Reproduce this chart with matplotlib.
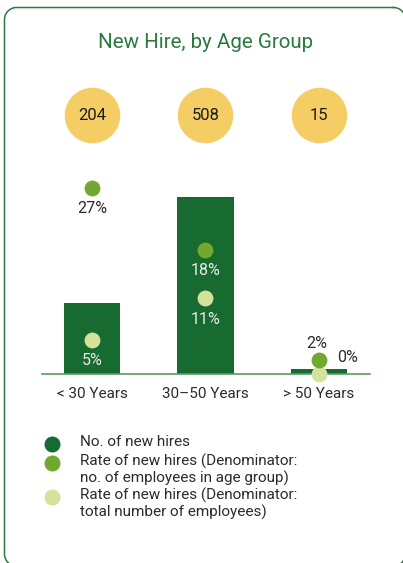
import matplotlib
matplotlib.use("Agg")
import matplotlib.pyplot as plt
import numpy as np
from matplotlib.transforms import blended_transform_factory

plt.rcParams['font.family'] = ['Roboto', 'DejaVu Sans']

# data
categories = ["< 30 Years", "30\u201350 Years", "> 50 Years"]
new_hires = [204, 508, 15]
rate_age_group = [27, 18, 2]      # % of employees in age group
rate_total = [5, 11, 0]           # % of total employees
legend_labels = ["No. of new hires",
                 "Rate of new hires (Denominator:\nno. of employees in age group)",
                 "Rate of new hires (Denominator:\ntotal number of employees)"]

dark = "#176b30"
mid = "#72a82e"
light = "#d4e29c"
yellow = "#f5cd65"
title_green = "#2a7a3e"
txt = "#2b2b2b"

W, H = 403, 563
fig = plt.figure(figsize=(W / 100, H / 100), dpi=100)

def fx(px):
    return px / W

def fy(py):
    return 1 - py / H

# card border, drawn in pixel units (right and bottom edges fall just off the canvas)
bg = fig.add_axes([0, 0, 1, 1])
bg.set_xlim(0, W)
bg.set_ylim(H, 0)
bg.axis("off")
x0, y0, x1, y1, r = 4.5, 7.5, 405.5, 566.0, 12
pts = []
for cx, cy, a0 in [(x1 - r, y0 + r, -np.pi / 2), (x1 - r, y1 - r, 0),
                   (x0 + r, y1 - r, np.pi / 2), (x0 + r, y0 + r, np.pi)]:
    a = np.linspace(a0, a0 + np.pi / 2, 20)
    pts.append(np.column_stack([cx + r * np.cos(a), cy + r * np.sin(a)]))
pts = np.vstack(pts + [pts[0][:1]])
bg.plot(pts[:, 0], pts[:, 1], color="#2a7a3e", lw=1.1)

fig.text(fx(206), fy(42), "New Hire, by Age Group", ha="center", va="center",
         fontsize=14.8, color=title_green)

# rate axis (percent) and bar axis share the same box
ax = fig.add_axes([fx(42), fy(374), fx(370) - fx(42), fy(160) - fy(374)])
ax.set_xlim(-0.44, 2.45)
ax.set_ylim(0, 214 / 6.9)
axb = ax.twinx()
axb.set_ylim(0, 613)
ax.set_zorder(axb.get_zorder() + 1)
ax.patch.set_visible(False)

x = list(range(len(categories)))
axb.bar(x, new_hires, width=0.5, color=dark)

for a in (ax, axb):
    for s in a.spines.values():
        s.set_visible(False)
    a.set_yticks([])
ax.spines["bottom"].set_visible(True)
ax.spines["bottom"].set_color("#5b9b63")
ax.spines["bottom"].set_linewidth(1.2)
ax.set_xticks(x)
ax.set_xticklabels(categories, fontsize=11, color=txt)
ax.tick_params(axis="x", length=0, pad=9)

ax.scatter(x, rate_age_group, s=130, color=mid, zorder=4, clip_on=False, linewidths=0)
ax.scatter(x, rate_total, s=130, color=light, zorder=3, clip_on=False, linewidths=0)

# value labels
label_offsets_mid = [(0, -21), (0, -21), (-2, 17)]
label_offsets_light = [(0, -21), (0, -21), (29, 17)]
for i in x:
    for vals, offs in ((rate_age_group, label_offsets_mid), (rate_total, label_offsets_light)):
        v = vals[i]
        dx, dy = offs[i]
        on_bar = (v / ax.get_ylim()[1]) < (new_hires[i] / axb.get_ylim()[1]) and dy < 0
        ax.annotate(f"{v}%", (i, v), xytext=(dx * 0.72, dy * 0.72),
                    textcoords="offset points", ha="center", va="center",
                    fontsize=11.5, color="#e8ede8" if on_bar else txt, zorder=5)

# number bubbles above the bars
tr = blended_transform_factory(ax.transData, fig.transFigure)
ax.scatter(x, [fy(115)] * len(x), s=1600, color=yellow, transform=tr,
           clip_on=False, linewidths=0, zorder=2)
for i, n in zip(x, new_hires):
    ax.text(i, fy(115), str(n), transform=tr, ha="center", va="center",
            fontsize=12, color="#1e1e1e", zorder=3)

# legend
rows = [444, 463, 497]
for col, py, lab in zip([dark, mid, light], rows, legend_labels):
    fig.add_artist(plt.Line2D([fx(52)], [fy(py)], marker="o", markersize=10.5,
                              color=col, linestyle="none", transform=fig.transFigure))
    fig.text(fx(80), fy(py - 9), lab, ha="left", va="top", fontsize=11,
             color=txt, linespacing=1.12)

fig.savefig("out.png", dpi=100)
